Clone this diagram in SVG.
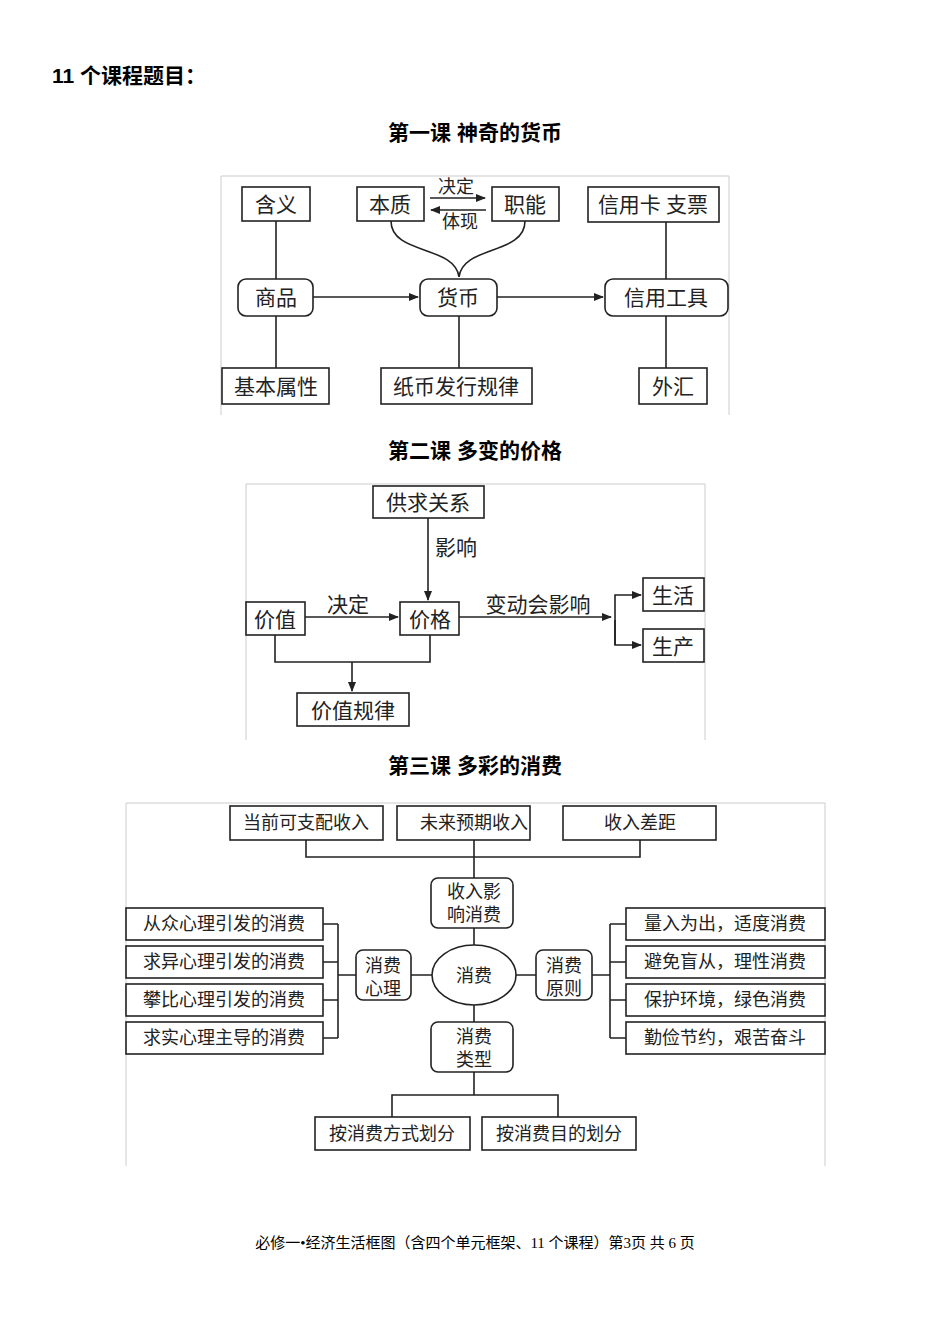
<svg xmlns="http://www.w3.org/2000/svg" width="950" height="1342" viewBox="0 0 950 1342">
<style>
.b{fill:#fff;stroke:#222;stroke-width:1.6}
.t{font-family:"Liberation Serif","Noto Sans CJK SC",serif;font-size:21px;fill:#222;text-anchor:middle}
.s{font-size:18px}
.h{font-family:"Liberation Sans","Noto Sans CJK SC",sans-serif;font-weight:bold;font-size:21px;fill:#000}
.l{fill:none;stroke:#222;stroke-width:1.6}
.f{fill:none;stroke:#ccc;stroke-width:1}
</style>
<defs><marker id="a" markerWidth="10" markerHeight="8" refX="9" refY="4" orient="auto" markerUnits="userSpaceOnUse"><path d="M0,0L10,4L0,8z" fill="#222"/></marker></defs>
<rect width="950" height="1342" fill="#fff"/>
<text class="h" x="52" y="83">11 个课程题目：</text>
<text class="h" x="475" y="140" text-anchor="middle">第一课  神奇的货币</text>
<text class="h" x="475" y="458" text-anchor="middle">第二课  多变的价格</text>
<text class="h" x="475" y="773" text-anchor="middle">第三课  多彩的消费</text>
<path class="f" d="M221,415V176H729V415"/>
<path class="f" d="M246,740V484H705V740"/>
<path class="f" d="M126,1166V803H825V1166"/>
<g id="connectors">
<path class="l" d="M276,221V279M276,316V368M459,316V368M666,222V279M666,316V368"/>
<path class="l" d="M313,297H418" marker-end="url(#a)"/>
<path class="l" d="M497,297H603" marker-end="url(#a)"/>
<path class="l" d="M430,198H485" marker-end="url(#a)"/>
<path class="l" d="M486,210H431" marker-end="url(#a)"/>
<path class="l" d="M391,221C391,255 455,245 459,277M525,221C525,255 463,245 459,277"/>
<path class="l" d="M428,518V600" marker-end="url(#a)"/>
<path class="l" d="M305,617H398" marker-end="url(#a)"/>
<path class="l" d="M459,617H611" marker-end="url(#a)"/>
<path class="l" d="M615,645V595H641" marker-end="url(#a)"/>
<path class="l" d="M615,620V645H641" marker-end="url(#a)"/>
<path class="l" d="M275,635V662H430V635"/>
<path class="l" d="M352,662V691" marker-end="url(#a)"/>
<path class="l" d="M306,840V857H640V840M474,840V878M474,928V945M474,1005V1022M474,1072V1095M392,1117V1095H558V1117"/>
<path class="l" d="M323,924H338M323,962H338M323,1000H338M323,1038H338M338,924V1038M338,975H356M411,975H432M516,975H536M592,975H610M610,924V1038M610,924H626M610,962H626M610,1000H626M610,1038H626"/>
</g>
<g id="s1">
<rect class="b" x="242" y="187" width="68" height="34"/><text class="t" x="276" y="212">含义</text>
<rect class="b" x="357" y="187" width="67" height="34"/><text class="t" x="390" y="212">本质</text>
<rect class="b" x="492" y="187" width="67" height="34"/><text class="t" x="525" y="212">职能</text>
<text class="t s" x="456" y="193">决定</text><text class="t s" x="460" y="228">体现</text>
<rect class="b" x="588" y="187" width="131" height="35"/><text class="t" x="653" y="212">信用卡  支票</text>
<rect class="b" x="238" y="279" width="75" height="37" rx="8"/><text class="t" x="276" y="305">商品</text>
<rect class="b" x="420" y="279" width="77" height="37" rx="8"/><text class="t" x="458" y="305">货币</text>
<rect class="b" x="605" y="279" width="123" height="37" rx="8"/><text class="t" x="666" y="305">信用工具</text>
<rect class="b" x="222" y="368" width="107" height="36"/><text class="t" x="276" y="394">基本属性</text>
<rect class="b" x="381" y="368" width="151" height="36"/><text class="t" x="456" y="394">纸币发行规律</text>
<rect class="b" x="639" y="368" width="68" height="36"/><text class="t" x="673" y="394">外汇</text>
</g>
<g id="s2">
<rect class="b" x="373" y="486" width="111" height="32"/><text class="t" x="428" y="510">供求关系</text>
<text class="t" x="456" y="555">影响</text>
<text class="t" x="348" y="612">决定</text>
<text class="t" x="538" y="612">变动会影响</text>
<rect class="b" x="246" y="602" width="59" height="33"/><text class="t" x="275" y="627">价值</text>
<rect class="b" x="400" y="602" width="59" height="33"/><text class="t" x="430" y="627">价格</text>
<rect class="b" x="643" y="578" width="61" height="33"/><text class="t" x="673" y="603">生活</text>
<rect class="b" x="643" y="629" width="61" height="33"/><text class="t" x="673" y="654">生产</text>
<rect class="b" x="297" y="693" width="112" height="33"/><text class="t" x="353" y="718">价值规律</text>
</g>
<g id="s3">
<rect class="b" x="230" y="806" width="153" height="34"/><text class="t s" x="306" y="829">当前可支配收入</text>
<rect class="b" x="397" y="806" width="133" height="34"/><text class="t s" x="474" y="829">未来预期收入</text>
<rect class="b" x="563" y="806" width="153" height="34"/><text class="t s" x="640" y="829">收入差距</text>
<rect class="b" x="431" y="878" width="82" height="50" rx="7"/><text class="t s" x="474" y="898">收入影</text><text class="t s" x="474" y="921">响消费</text>
<ellipse class="b" cx="474" cy="975" rx="42" ry="30"/><text class="t s" x="474" y="982">消费</text>
<rect class="b" x="356" y="950" width="55" height="50" rx="7"/><text class="t s" x="383" y="972">消费</text><text class="t s" x="383" y="995">心理</text>
<rect class="b" x="536" y="950" width="56" height="50" rx="7"/><text class="t s" x="564" y="972">消费</text><text class="t s" x="564" y="995">原则</text>
<rect class="b" x="431" y="1022" width="82" height="50" rx="7"/><text class="t s" x="474" y="1043">消费</text><text class="t s" x="474" y="1066">类型</text>
<rect class="b" x="126" y="908" width="197" height="32"/><text class="t s" x="224" y="930">从众心理引发的消费</text>
<rect class="b" x="126" y="946" width="197" height="32"/><text class="t s" x="224" y="968">求异心理引发的消费</text>
<rect class="b" x="126" y="984" width="197" height="32"/><text class="t s" x="224" y="1006">攀比心理引发的消费</text>
<rect class="b" x="126" y="1022" width="197" height="32"/><text class="t s" x="224" y="1044">求实心理主导的消费</text>
<rect class="b" x="626" y="908" width="199" height="32"/><text class="t s" x="725" y="930">量入为出，适度消费</text>
<rect class="b" x="626" y="946" width="199" height="32"/><text class="t s" x="725" y="968">避免盲从，理性消费</text>
<rect class="b" x="626" y="984" width="199" height="32"/><text class="t s" x="725" y="1006">保护环境，绿色消费</text>
<rect class="b" x="626" y="1022" width="199" height="32"/><text class="t s" x="725" y="1044">勤俭节约，艰苦奋斗</text>
<rect class="b" x="315" y="1117" width="155" height="33"/><text class="t s" x="392" y="1140">按消费方式划分</text>
<rect class="b" x="482" y="1117" width="154" height="33"/><text class="t s" x="559" y="1140">按消费目的划分</text>
</g>
<text x="475" y="1248" text-anchor="middle" style="font-family:'Liberation Serif','Noto Sans CJK SC',serif;font-size:15px;fill:#000">必修一•经济生活框图（含四个单元框架、11 个课程）第3页  共 6 页</text>
</svg>
